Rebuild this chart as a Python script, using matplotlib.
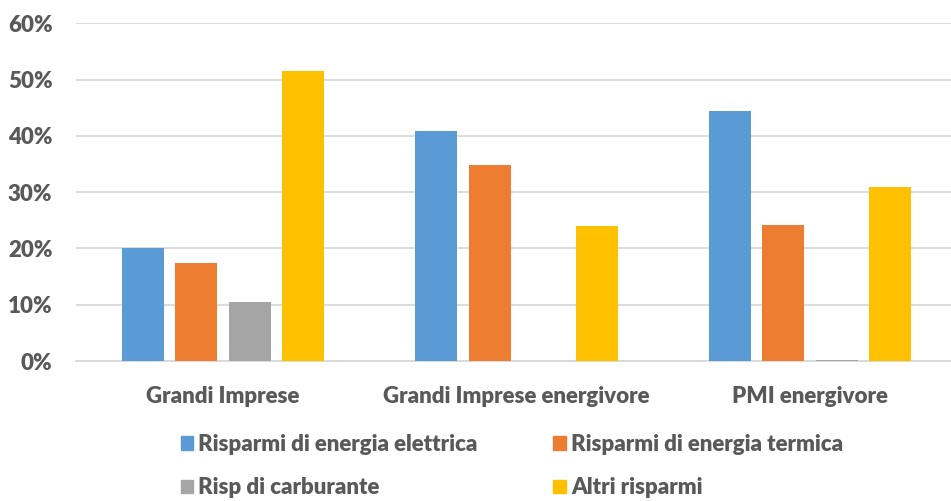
import numpy as np
import matplotlib.pyplot as plt
from matplotlib.patches import Patch

plt.rcParams['font.family'] = ['Lato', 'DejaVu Sans']
plt.rcParams['font.weight'] = 800

categories = ['Grandi Imprese', 'Grandi Imprese energivore', 'PMI energivore']
series_names = ['Risparmi di energia elettrica', 'Risparmi di energia termica',
                'Risp di carburante', 'Altri risparmi']
elettrica = [20.0, 40.8, 44.4]
termica = [17.4, 34.9, 24.2]
carburante = [10.5, 0.0, 0.25]
altri = [51.6, 23.9, 30.9]
yticks = [0, 10, 20, 30, 40, 50, 60]

colors = ['#5B9BD5', '#ED7D31', '#A5A5A5', '#FFC000']
text_color = '#595959'

fig = plt.figure(figsize=(9.51, 5.01), dpi=100)
ax = fig.add_axes([0.080, 0.2794, 0.926, 0.6741])

x = np.arange(len(categories))
width = 0.143
step = 0.182
for i, vals in enumerate([elettrica, termica, carburante, altri]):
    ax.bar(x + (i - 1.5) * step, vals, width, color=colors[i], label=series_names[i], zorder=3)

ax.set_xlim(-0.5, 2.5)
ax.set_ylim(0, 60)
ax.set_yticks(yticks)
ax.set_yticklabels([f'{t}%' for t in yticks], fontweight=800)
ax.set_xticks(x)
ax.set_xticklabels(categories, fontweight=800)
ax.tick_params(axis='both', length=0, labelsize=16, labelcolor=text_color)
ax.tick_params(axis='y', pad=17)
ax.tick_params(axis='x', pad=18)
ax.grid(axis='y', color='#D9D9D9', linewidth=1.3, zorder=0)
for s in ['top', 'right', 'left']:
    ax.spines[s].set_visible(False)
ax.spines['bottom'].set_color('#D9D9D9')
ax.spines['bottom'].set_linewidth(1.3)

# legend filled row by row
order = [0, 2, 1, 3]
handles = [Patch(color=colors[k]) for k in order]
labels = [series_names[k] for k in order]
leg = fig.legend(handles, labels, ncol=2, loc='upper left',
                 bbox_to_anchor=(0.190, 0.134), frameon=False,
                 prop={'size': 16, 'weight': 800},
                 handlelength=0.55, handleheight=0.55, handletextpad=0.25,
                 columnspacing=3.4, labelspacing=1.0, borderaxespad=0, borderpad=0)
for t in leg.get_texts():
    t.set_color(text_color)

fig.savefig('out.png', dpi=100)
